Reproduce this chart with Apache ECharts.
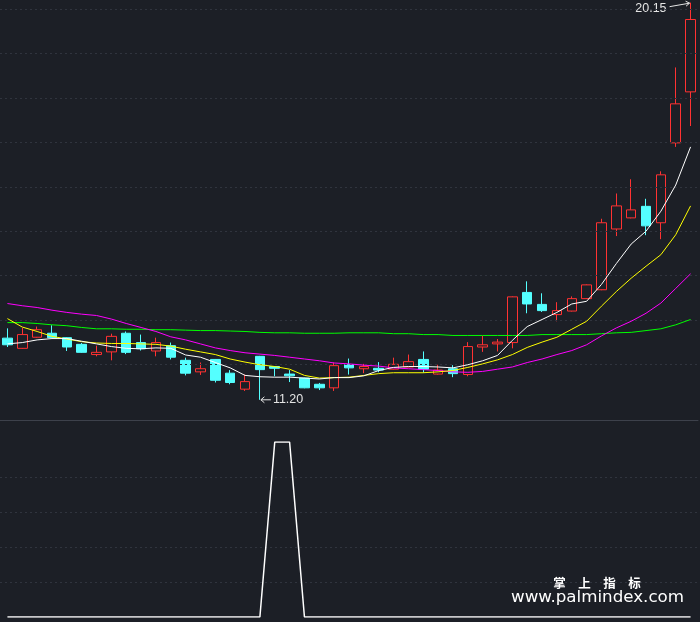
<!DOCTYPE html>
<html><head><meta charset="utf-8">
<script src="https://cdn.jsdelivr.net/npm/echarts@6/dist/echarts.min.js"></script>
<style>html,body{margin:0;padding:0;background:#1c1f26;}#c{width:700px;height:622px;}</style>
</head><body><div id="c"></div>
<script>
// ---- data ----
const categories = ['1','2','3','4','5','6','7','8','9','10','11','12','13','14','15','16','17','18','19','20','21','22','23','24','25','26','27','28','29','30','31','32','33','34','35','36','37','38','39','40','41','42','43','44','45','46','47'];
const opens  = [12.59,12.36,12.61,12.70,12.60,12.45,12.22,12.28,12.70,12.49,12.30,12.42,12.09,11.83,12.11,11.80,11.44,12.18,11.95,11.78,11.69,11.55,11.47,11.99,11.90,11.91,11.89,11.94,12.11,11.78,11.90,11.77,12.39,12.46,12.49,13.62,13.35,13.12,13.20,13.48,13.68,15.05,15.30,15.56,15.19,16.99,18.14];
const closes = [12.44,12.67,12.78,12.60,12.39,12.27,12.27,12.63,12.27,12.35,12.49,12.16,11.80,11.90,11.64,11.59,11.61,11.88,11.91,11.74,11.47,11.47,11.97,11.92,11.95,11.87,12.00,12.06,11.89,11.87,11.79,12.40,12.44,12.50,13.52,13.36,13.21,13.21,13.48,13.79,15.19,15.57,15.48,15.12,16.27,17.87,19.77];
const lows   = [12.39,12.35,12.60,12.60,12.30,12.26,12.18,12.09,12.23,12.31,12.18,12.11,11.75,11.76,11.59,11.55,11.40,11.20,11.73,11.60,11.46,11.42,11.40,11.77,11.80,11.82,11.88,11.93,11.81,11.77,11.71,11.73,12.28,12.29,12.36,13.15,13.18,12.97,13.19,13.47,13.67,14.89,15.29,14.91,14.82,16.90,17.37];
const highs  = [12.81,12.82,12.85,12.88,12.61,12.48,12.42,12.69,12.74,12.67,12.60,12.49,12.15,12.04,12.12,11.87,11.77,12.19,11.96,11.87,11.70,11.58,12.04,12.13,12.01,12.05,12.15,12.22,12.29,11.99,11.98,12.50,12.64,12.57,13.53,13.87,13.60,13.40,13.53,13.80,15.28,15.85,16.17,15.73,16.35,18.69,20.15];
const ma5  = [12.46,12.49,12.55,12.58,12.58,12.52,12.46,12.40,12.36,12.35,12.37,12.36,12.21,12.16,12.04,11.92,11.75,11.72,11.71,11.71,11.69,11.67,11.70,11.70,11.74,11.86,11.93,11.95,11.95,11.94,11.92,11.99,12.08,12.20,12.54,12.85,13.01,13.17,13.36,13.42,13.80,14.27,14.71,15.00,15.45,16.04,16.90];
const ma10 = [13.03,12.84,12.74,12.63,12.57,12.51,12.48,12.47,12.47,12.46,12.45,12.41,12.34,12.28,12.22,12.12,12.05,11.99,11.95,11.89,11.75,11.69,11.70,11.71,11.75,11.79,11.81,11.81,11.81,11.83,11.86,11.93,12.01,12.10,12.22,12.38,12.50,12.61,12.79,12.97,13.31,13.64,13.94,14.21,14.47,14.92,15.57];
const ma20 = [13.37,13.32,13.28,13.22,13.17,13.13,13.10,13.02,12.92,12.83,12.74,12.62,12.55,12.46,12.37,12.31,12.26,12.23,12.20,12.16,12.12,12.08,12.03,12.01,11.98,11.96,11.92,11.90,11.88,11.86,11.83,11.82,11.84,11.89,11.94,12.04,12.12,12.22,12.31,12.44,12.64,12.82,12.97,13.15,13.38,13.71,14.04];
const ma60 = [12.94,12.94,12.92,12.89,12.87,12.83,12.80,12.80,12.79,12.79,12.78,12.78,12.77,12.76,12.76,12.75,12.74,12.72,12.71,12.71,12.70,12.70,12.70,12.71,12.71,12.71,12.69,12.69,12.67,12.67,12.65,12.65,12.65,12.65,12.65,12.65,12.67,12.67,12.67,12.67,12.69,12.71,12.72,12.76,12.80,12.89,13.01];
const signal = [0,0,0,0,0,0,0,0,0,0,0,0,0,0,0,0,0,0,1,1,0,0,0,0,0,0,0,0,0,0,0,0,0,0,0,0,0,0,0,0,0,0,0,0,0,0,0];
const priceGridLevels = [12,13,14,15,16,17,18,19,20];
const watermarkTitle = '掌　上　指　标';
const watermarkUrl = 'www.palmindex.com';

// ---- chart ----
const BG = '#1c1f26';
const GRIDC = '#30343e';
const chart = echarts.init(document.getElementById('c'), null, {renderer: 'canvas'});
const candleData = categories.map((_, i) => [opens[i], closes[i], lows[i], highs[i]]);
const maLine = (name, data, color) => ({
  name, type: 'line', data, xAxisIndex: 0, yAxisIndex: 0, symbol: 'none', smooth: false,
  z: 5, silent: true, lineStyle: {color, width: 1}
});

chart.setOption({
  animation: false,
  backgroundColor: BG,
  grid: [
    {left: 0, right: 2, top: 0, height: 420},
    {left: 0, right: 2, top: 442, height: 175}
  ],
  xAxis: [
    {type: 'category', gridIndex: 0, data: categories, boundaryGap: true,
     axisLine: {show: true, lineStyle: {color: '#3d414b', width: 1}}, axisTick: {show: false}, axisLabel: {show: false}, splitLine: {show: false}},
    {type: 'category', gridIndex: 1, data: categories, boundaryGap: true,
     axisLine: {show: false}, axisTick: {show: false}, axisLabel: {show: false}, splitLine: {show: false}}
  ],
  yAxis: [
    {type: 'value', gridIndex: 0, min: 10.745, max: 20.21, scale: true,
     axisLine: {show: false}, axisTick: {show: false}, axisLabel: {show: false}, splitLine: {show: false}},
    {type: 'value', gridIndex: 1, min: 0, max: 1, interval: 0.2,
     axisLine: {show: false}, axisTick: {show: false}, axisLabel: {show: false},
     splitLine: {show: true, showMinLine: false, showMaxLine: false, lineStyle: {color: GRIDC, type: [2, 3], width: 1}}}
  ],
  series: [
    {name: 'grid', type: 'line', xAxisIndex: 0, yAxisIndex: 0, data: categories.map(() => null), z: 1, silent: true,
     symbol: 'none', lineStyle: {opacity: 0},
     markLine: {silent: true, symbol: ['none', 'none'], label: {show: false}, animation: false,
       lineStyle: {color: GRIDC, type: [2, 3], width: 1},
       emphasis: {disabled: true},
       data: priceGridLevels.map(v => ({yAxis: v}))}},
    {name: 'K', type: 'candlestick', xAxisIndex: 0, yAxisIndex: 0, data: candleData, barWidth: 10, z: 3, silent: true,
     itemStyle: {color: BG, color0: '#54ffff', borderColor: '#ff3232', borderColor0: '#54ffff', borderWidth: 1}},
    maLine('MA60', ma60, '#00ff00'),
    maLine('MA20', ma20, '#ff00ff'),
    maLine('MA10', ma10, '#ffff00'),
    maLine('MA5', ma5, '#ffffff'),
    {name: 'signal', type: 'line', xAxisIndex: 1, yAxisIndex: 1, data: signal, symbol: 'none', silent: true,
     lineStyle: {color: '#ffffff', width: 1.5}}
  ]
});

// extreme labels positioned through the chart's own coordinate conversion
const hiIdx = highs.indexOf(Math.max(...highs));
const loIdx = lows.indexOf(Math.min(...lows));
const hp = chart.convertToPixel({xAxisIndex: 0, yAxisIndex: 0}, [hiIdx, highs[hiIdx]]);
const lp = chart.convertToPixel({xAxisIndex: 0, yAxisIndex: 0}, [loIdx, lows[loIdx]]);
const LBL = '#e4e4e4';
const FONT = '12.5px "Liberation Sans", Arial, sans-serif';
chart.setOption({
  graphic: [
    {type: 'polyline', silent: true, shape: {points: [[hp[0] - 21, hp[1] + 4], [hp[0] - 1, hp[1] + 0.5]]}, style: {stroke: LBL, lineWidth: 1, fill: null}},
    {type: 'polyline', silent: true, shape: {points: [[hp[0] - 5, hp[1] - 1.5], [hp[0] - 1, hp[1] + 0.5], [hp[0] - 4.5, hp[1] + 3.5]]}, style: {stroke: LBL, lineWidth: 1, fill: null}},
    {type: 'text', silent: true, x: hp[0] - 24, y: hp[1] + 5.5, style: {text: highs[hiIdx].toFixed(2), font: FONT, fill: LBL, align: 'right', verticalAlign: 'middle'}},
    {type: 'polyline', silent: true, shape: {points: [[lp[0] + 1, lp[1]], [lp[0] + 11, lp[1]]]}, style: {stroke: LBL, lineWidth: 1, fill: null}},
    {type: 'polyline', silent: true, shape: {points: [[lp[0] + 4.5, lp[1] - 3], [lp[0] + 1, lp[1]], [lp[0] + 4.5, lp[1] + 3]]}, style: {stroke: LBL, lineWidth: 1, fill: null}},
    {type: 'text', silent: true, x: lp[0] + 13, y: lp[1], style: {text: lows[loIdx].toFixed(2), font: FONT, fill: LBL, align: 'left', verticalAlign: 'middle'}},
    {type: 'text', silent: true, x: 597, y: 583, style: {text: watermarkTitle, font: 'bold 12.5px "Noto Sans CJK SC"', fill: '#ffffff', align: 'center', verticalAlign: 'middle'}},
    {type: 'text', silent: true, x: 511, y: 598, style: {text: watermarkUrl, font: '16.7px "DejaVu Sans"', fill: '#ffffff', align: 'left', verticalAlign: 'middle'}}
  ]
});
</script></body></html>
